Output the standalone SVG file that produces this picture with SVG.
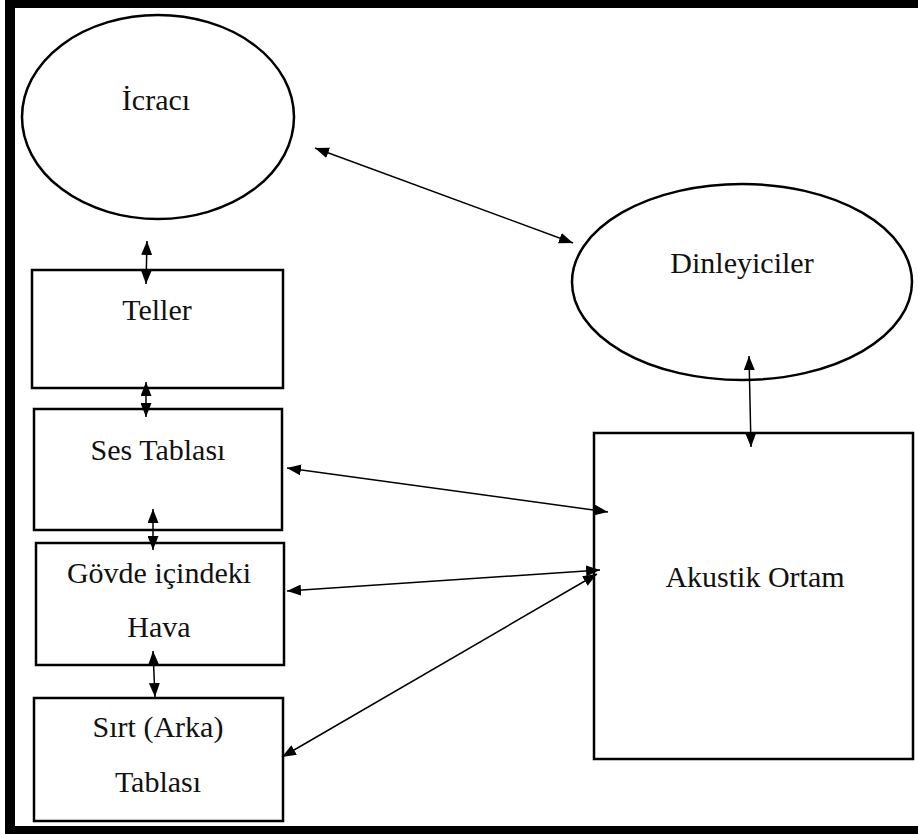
<svg xmlns="http://www.w3.org/2000/svg" width="918" height="834" viewBox="0 0 918 834">
<style>
.shape{fill:#fff;stroke:#000;stroke-width:2.5}
.lbl{font-family:"Liberation Serif","Times New Roman",serif;font-size:30px;fill:#111;text-anchor:middle}
.conn{stroke:#000;stroke-width:1.5;fill:none;marker-start:url(#ah);marker-end:url(#ah)}
</style>
<defs>
<marker id="ah" viewBox="0 0 14 11" refX="14" refY="5.5" markerWidth="14" markerHeight="11" markerUnits="userSpaceOnUse" orient="auto-start-reverse">
<path d="M0,0 L14,5.5 L0,11 Z" fill="#000"/>
</marker>
</defs>
<rect width="918" height="834" fill="#fff"/>
<g id="frame" fill="#000">
<rect x="5" y="0" width="913" height="8"/>
<rect x="5" y="0" width="10" height="834"/>
<rect x="5" y="826" width="913" height="8"/>
</g>
<g id="icraci">
<ellipse class="shape" cx="158" cy="117" rx="136" ry="102"/>
<text class="lbl" x="156" y="110">İcracı</text>
</g>
<g id="dinleyiciler">
<ellipse class="shape" cx="742" cy="282" rx="170" ry="98"/>
<text class="lbl" x="742" y="273">Dinleyiciler</text>
</g>
<g id="teller">
<rect class="shape" x="32" y="270" width="251" height="118"/>
<text class="lbl" x="157" y="320">Teller</text>
</g>
<g id="ses-tablasi">
<rect class="shape" x="34" y="409" width="248" height="121"/>
<text class="lbl" x="158" y="460">Ses Tablası</text>
</g>
<g id="govde">
<rect class="shape" x="36" y="543" width="248" height="122"/>
<text class="lbl" x="159" y="583">Gövde içindeki</text>
<text class="lbl" x="159" y="637">Hava</text>
</g>
<g id="sirt">
<rect class="shape" x="34" y="698" width="249" height="123"/>
<text class="lbl" x="158" y="737">Sırt (Arka)</text>
<text class="lbl" x="158" y="792">Tablası</text>
</g>
<g id="akustik">
<rect class="shape" x="594" y="433" width="319" height="326"/>
<text class="lbl" x="755" y="587">Akustik Ortam</text>
</g>
<g id="connectors">
<line class="conn" x1="315" y1="148" x2="573" y2="243"/>
<line class="conn" x1="147" y1="241" x2="146" y2="284"/>
<line class="conn" x1="146" y1="382" x2="146" y2="417"/>
<line class="conn" x1="153" y1="509" x2="153" y2="550"/>
<line class="conn" x1="153" y1="651" x2="155" y2="697"/>
<line class="conn" x1="749" y1="356" x2="751" y2="447"/>
<line class="conn" x1="287" y1="468" x2="608" y2="512"/>
<line class="conn" x1="287" y1="591" x2="600" y2="570"/>
<line class="conn" x1="282" y1="757" x2="597" y2="574"/>
</g>
</svg>
